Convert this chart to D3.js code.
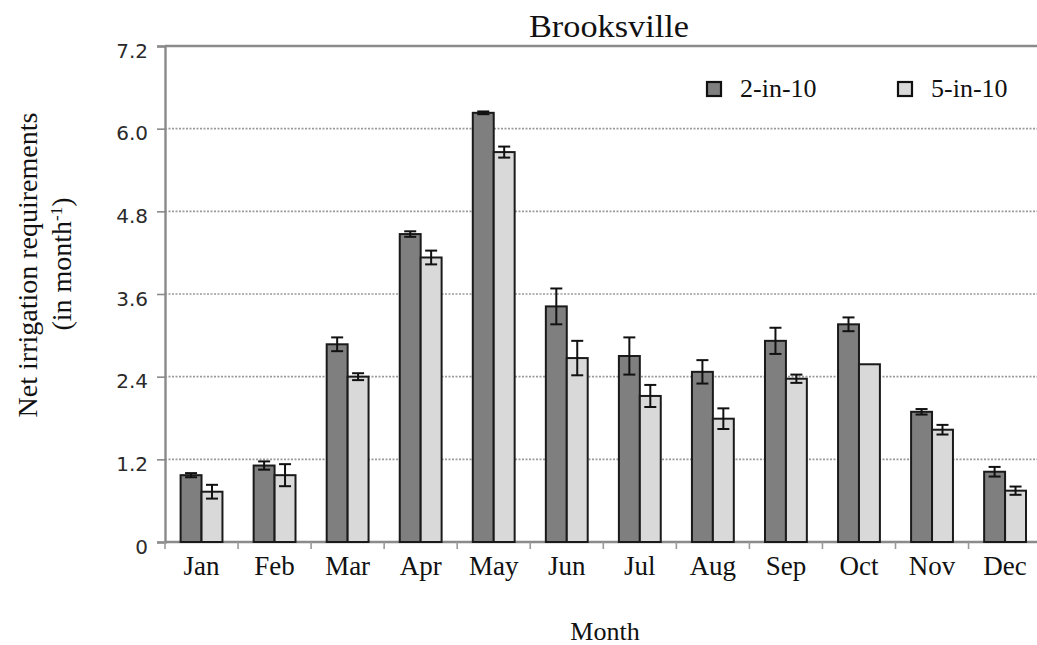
<!DOCTYPE html>
<html>
<head>
<meta charset="utf-8">
<script src="https://cdn.jsdelivr.net/npm/d3@7"></script>
<style>
  html, body { margin: 0; padding: 0; background: #fff; }
  svg { display: block; }
</style>
</head>
<body>
<svg id="chart" width="1037" height="645"></svg>
<script>
// Monthly net irrigation requirements, Brooksville
const months = ["Jan", "Feb", "Mar", "Apr", "May", "Jun", "Jul", "Aug", "Sep", "Oct", "Nov", "Dec"];
const seriesNames = ["2-in-10", "5-in-10"];
const values2in10 = [0.97, 1.11, 2.87, 4.47, 6.23, 3.42, 2.70, 2.47, 2.92, 3.16, 1.89, 1.02];
const values5in10 = [0.73, 0.97, 2.40, 4.13, 5.66, 2.67, 2.12, 1.79, 2.37, 2.58, 1.63, 0.745];
const err2in10 = [0.03, 0.06, 0.10, 0.04, 0.02, 0.26, 0.27, 0.17, 0.19, 0.10, 0.04, 0.07];
const err5in10 = [0.10, 0.16, 0.05, 0.10, 0.08, 0.25, 0.16, 0.15, 0.06, 0, 0.07, 0.06];
const yTicks = [0, 1.2, 2.4, 3.6, 4.8, 6.0, 7.2];
const yTickLabels = ["0", "1.2", "2.4", "3.6", "4.8", "6.0", "7.2"];

const fills = ["#7f7f7f", "#d9d9d9"];
const serif = "'Liberation Serif', 'Times New Roman', serif";
const sans = "'DejaVu Sans', Verdana, sans-serif";

const svg = d3.select("#chart");
const plotLeft = 165, plotTop = 46, plotBottom = 542;
const step = 73.05;
const plotRight = plotLeft + step * months.length;

const x0 = d3.scaleBand().domain(months).range([plotLeft, plotRight]).padding(0);
const x1 = d3.scaleBand().domain(seriesNames).range([0, x0.bandwidth()])
  .paddingInner(0).paddingOuter(0.745);
const y = d3.scaleLinear().domain([0, 7.2]).range([plotBottom, plotTop]);

// horizontal dotted gridlines
svg.append("g").selectAll("line")
  .data(yTicks.filter(v => v > 0 && v < 7.2))
  .join("line")
  .attr("x1", plotLeft).attr("x2", 1037)
  .attr("y1", d => y(d)).attr("y2", d => y(d))
  .attr("stroke", "#9a9a9a").attr("stroke-width", 1.6)
  .attr("stroke-dasharray", "2,1.5");

// top border of the plot
svg.append("line")
  .attr("x1", plotLeft).attr("x2", 1037)
  .attr("y1", y(7.2)).attr("y2", y(7.2))
  .attr("stroke", "#8a8a8a").attr("stroke-width", 2.4);

// y axis
const yAxis = d3.axisLeft(y).tickValues(yTicks)
  .tickFormat((d, i) => yTickLabels[i]).tickSize(8).tickPadding(9);
const gy = svg.append("g").attr("transform", `translate(${plotLeft},0)`).call(yAxis);
gy.select(".domain").attr("stroke", "#8a8a8a").attr("stroke-width", 2.4);
gy.selectAll(".tick line").attr("stroke", "#8a8a8a").attr("stroke-width", 1.6);
gy.selectAll(".tick text")
  .attr("font-family", sans).attr("font-size", 20).attr("fill", "#2a2a2a")
  .attr("dy", "0.55em");

// x axis with ticks between the month groups
const gx = svg.append("g").attr("transform", `translate(0,${plotBottom})`);
gx.append("line").attr("x1", plotLeft).attr("x2", 1037).attr("y1", 0).attr("y2", 0)
  .attr("stroke", "#8a8a8a").attr("stroke-width", 2.4);
gx.selectAll("line.tk").data(months).join("line").attr("class", "tk")
  .attr("x1", d => x0(d)).attr("x2", d => x0(d))
  .attr("y1", 0).attr("y2", 7)
  .attr("stroke", "#9a9a9a").attr("stroke-width", 1.6);
gx.selectAll("text").data(months).join("text")
  .attr("x", d => x0(d) + x0.bandwidth() / 2)
  .attr("y", 33)
  .attr("text-anchor", "middle")
  .attr("font-family", serif).attr("font-size", 27).attr("fill", "#111")
  .text(d => d);

// bars and error bars
const rows = months.map((m, i) => ({
  month: m,
  items: [
    { s: seriesNames[0], v: values2in10[i], e: err2in10[i], c: fills[0] },
    { s: seriesNames[1], v: values5in10[i], e: err5in10[i], c: fills[1] }
  ]
}));

const groups = svg.append("g").selectAll("g")
  .data(rows).join("g")
  .attr("transform", d => `translate(${x0(d.month)},0)`);

groups.selectAll("rect").data(d => d.items).join("rect")
  .attr("x", d => x1(d.s))
  .attr("y", d => y(d.v))
  .attr("width", x1.bandwidth())
  .attr("height", d => y(0) - y(d.v))
  .attr("fill", d => d.c)
  .attr("stroke", "#1a1a1a").attr("stroke-width", 2);

const eb = groups.selectAll("g.err").data(d => d.items.filter(it => it.e > 0))
  .join("g").attr("class", "err")
  .attr("stroke", "#111").attr("stroke-width", 2);
eb.append("line")
  .attr("x1", d => x1(d.s) + x1.bandwidth() / 2)
  .attr("x2", d => x1(d.s) + x1.bandwidth() / 2)
  .attr("y1", d => y(d.v + d.e)).attr("y2", d => y(d.v - d.e));
eb.append("line")
  .attr("x1", d => x1(d.s) + x1.bandwidth() / 2 - 6)
  .attr("x2", d => x1(d.s) + x1.bandwidth() / 2 + 6)
  .attr("y1", d => y(d.v + d.e)).attr("y2", d => y(d.v + d.e));
eb.append("line")
  .attr("x1", d => x1(d.s) + x1.bandwidth() / 2 - 6)
  .attr("x2", d => x1(d.s) + x1.bandwidth() / 2 + 6)
  .attr("y1", d => y(d.v - d.e)).attr("y2", d => y(d.v - d.e));

// title
svg.append("text")
  .attr("x", 609).attr("y", 37)
  .attr("text-anchor", "middle")
  .attr("font-family", serif).attr("font-size", 31).attr("fill", "#111")
  .attr("textLength", 160).attr("lengthAdjust", "spacingAndGlyphs")
  .text("Brooksville");

// legend
const legendX = [707, 898];
const lg = svg.append("g").selectAll("g").data(seriesNames).join("g")
  .attr("transform", (d, i) => `translate(${legendX[i]},82)`);
lg.append("rect").attr("width", 14).attr("height", 14)
  .attr("fill", (d, i) => fills[i]).attr("stroke", "#111").attr("stroke-width", 2.2);
lg.append("text").attr("x", 33).attr("y", 15)
  .attr("font-family", serif).attr("font-size", 26).attr("fill", "#111")
  .text(d => d);

// axis titles
svg.append("text")
  .attr("transform", "translate(37,265) rotate(-90)")
  .attr("text-anchor", "middle")
  .attr("font-family", serif).attr("font-size", 28).attr("fill", "#111")
  .text("Net irrigation requirements");
const unit = svg.append("text")
  .attr("transform", "translate(71,264) rotate(-90)")
  .attr("text-anchor", "middle")
  .attr("font-family", serif).attr("font-size", 28).attr("fill", "#111");
unit.append("tspan").text("(in month");
unit.append("tspan").attr("baseline-shift", "super").attr("font-size", 17).text("-1");
unit.append("tspan").text(")");

svg.append("text")
  .attr("x", 605).attr("y", 640)
  .attr("text-anchor", "middle")
  .attr("font-family", serif).attr("font-size", 26).attr("fill", "#111")
  .text("Month");
</script>
</body>
</html>
